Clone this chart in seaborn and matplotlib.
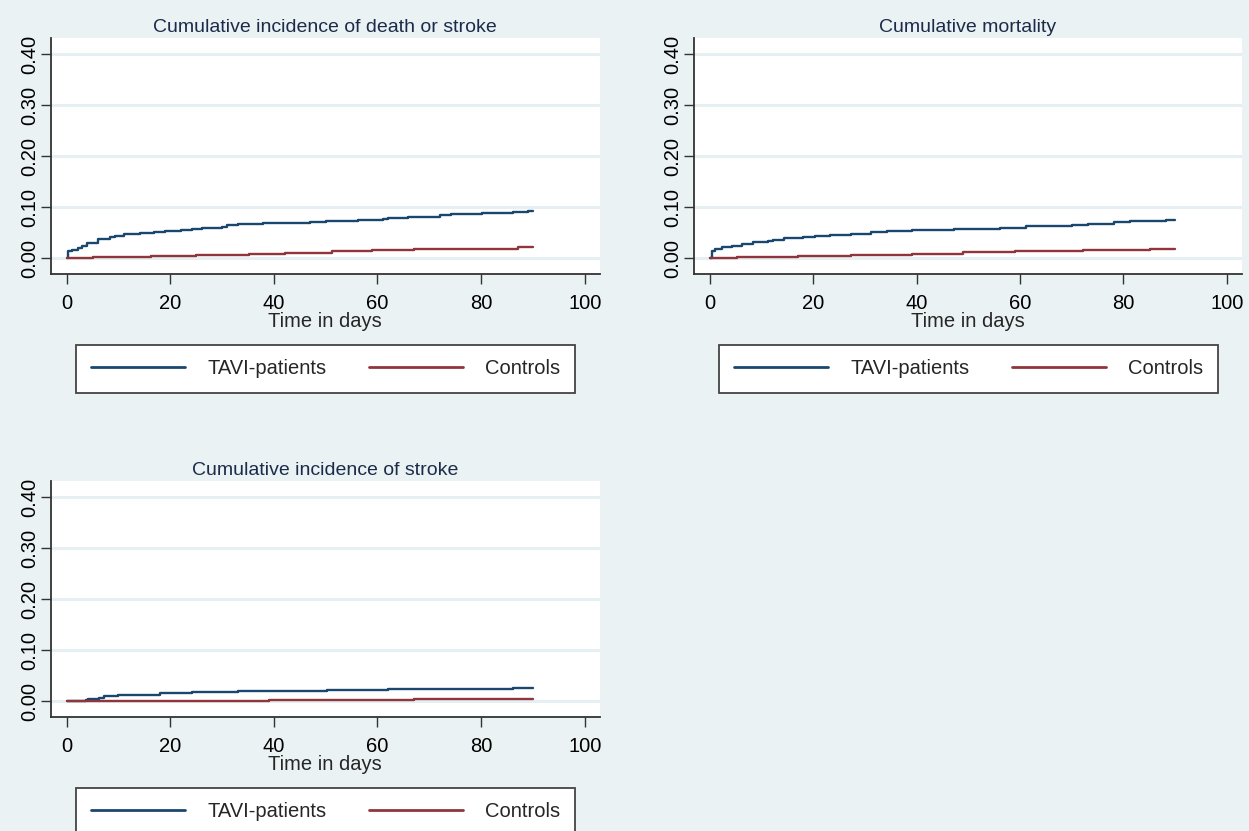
import numpy as np
import pandas as pd
import seaborn as sns
import matplotlib.pyplot as plt

# panel titles and groups
titles = ["Cumulative incidence of death or stroke",
          "Cumulative mortality",
          "Cumulative incidence of stroke"]
groups = ["TAVI-patients", "Controls"]
x_ticks = [0, 20, 40, 60, 80, 100]
y_ticks = [0.0, 0.1, 0.2, 0.3, 0.4]

# death or stroke
ds_tavi_days = [0, 0.2, 1.0, 2.1, 3.0, 4.0, 6.0, 8.3, 9.3, 11.0, 13.1, 14.1, 16.9, 19.0, 22.1,
                24.1, 26.2, 30.0, 31.0, 33.1, 37.9, 47.0, 50.0, 56.2, 61.0, 62.1, 65.9, 72.1,
                74.1, 80.1, 86.2, 89.0, 90.0]
ds_tavi_risk = [0, 0.014, 0.017, 0.020, 0.023, 0.030, 0.037, 0.041, 0.043, 0.047, 0.048, 0.050,
                0.052, 0.054, 0.056, 0.058, 0.060, 0.062, 0.065, 0.067, 0.069, 0.071, 0.073,
                0.075, 0.077, 0.079, 0.081, 0.084, 0.086, 0.088, 0.090, 0.092, 0.092]
ds_ctrl_days = [0, 5.0, 16.2, 25.0, 35.2, 42.2, 51.2, 59.0, 67.0, 76.2, 87.2, 90.0]
ds_ctrl_risk = [0, 0.002, 0.0045, 0.0065, 0.009, 0.011, 0.0135, 0.0155, 0.0175, 0.019, 0.022, 0.022]

# mortality
mo_tavi_days = [0, 0.5, 1.0, 2.3, 4.3, 6.3, 8.3, 11.2, 12.2, 14.3, 18.1, 20.3, 23.2, 27.4, 31.2,
                34.3, 39.1, 47.2, 56.1, 61.2, 70.1, 73.2, 78.1, 81.3, 88.2, 90.0]
mo_tavi_risk = [0, 0.014, 0.018, 0.0216, 0.0235, 0.0275, 0.031, 0.034, 0.0366, 0.039, 0.041,
                0.0438, 0.0458, 0.048, 0.051, 0.0536, 0.0556, 0.058, 0.060, 0.0627, 0.065,
                0.068, 0.0706, 0.0725, 0.0745, 0.0745]
mo_ctrl_days = [0, 5.3, 17.0, 27.4, 39.1, 49.0, 59.1, 72.1, 85.2, 90.0]
mo_ctrl_risk = [0, 0.002, 0.0046, 0.0065, 0.009, 0.0118, 0.0137, 0.0157, 0.0176, 0.0176]

# stroke
st_tavi_days = [0, 3.7, 4.2, 6.2, 7.2, 10.0, 18.1, 24.1, 33.1, 50.2, 62.1, 86.2, 90.0]
st_tavi_risk = [0, 0.002, 0.004, 0.0072, 0.0098, 0.013, 0.0157, 0.0176, 0.0196, 0.0216,
                0.0235, 0.0255, 0.0255]
st_ctrl_days = [0, 39.0, 67.0, 90.0]
st_ctrl_risk = [0, 0.002, 0.0046, 0.0046]

panels = [
    (ds_tavi_days, ds_tavi_risk, ds_ctrl_days, ds_ctrl_risk),
    (mo_tavi_days, mo_tavi_risk, mo_ctrl_days, mo_ctrl_risk),
    (st_tavi_days, st_tavi_risk, st_ctrl_days, st_ctrl_risk),
]

BG = '#EAF2F3'
GRID = '#E6EFF1'
NAVY = '#1A476F'
MAROON = '#90353B'
AXC = '#333333'
palette = {"TAVI-patients": NAVY, "Controls": MAROON}

sns.set_style("white")
plt.rcParams['font.family'] = ['Liberation Sans', 'DejaVu Sans']

W, H = 1249, 831
fig = plt.figure(figsize=(W / 100, H / 100), dpi=100, facecolor=BG)

# axes boxes in pixels: left, top, right, bottom
boxes = [(50.6, 38, 600, 274), (693.8, 38, 1242, 274), (50.6, 481, 600, 717)]
legend_boxes = [(76, 346, 575, 392), (719, 346, 1218, 392), (76, 789, 575, 835)]

for i, (td, tr, cd, cr) in enumerate(panels):
    l, t, r, b = boxes[i]
    ax = fig.add_axes([l / W, 1 - b / H, (r - l) / W, (b - t) / H])
    ax.set_facecolor('white')

    df = pd.DataFrame({
        'day': list(td) + list(cd),
        'risk': list(tr) + list(cr),
        'group': [groups[0]] * len(td) + [groups[1]] * len(cd),
    })
    sns.lineplot(data=df, x='day', y='risk', hue='group', palette=palette,
                 estimator=None, drawstyle='steps-post', linewidth=1.7,
                 legend=False, ax=ax)

    ax.set_xlim(-3.1, 102.95)
    ax.set_ylim(-0.031, 0.432)
    ax.set_xticks(x_ticks)
    ax.set_yticks(y_ticks)
    ax.set_yticklabels([f"{v:.2f}" for v in y_ticks])
    ax.yaxis.grid(True, color=GRID, linewidth=2.2)
    ax.set_axisbelow(True)

    for s in ['top', 'right']:
        ax.spines[s].set_visible(False)
    for s in ['left', 'bottom']:
        ax.spines[s].set_color(AXC)
        ax.spines[s].set_linewidth(1.3)

    ax.tick_params(axis='both', which='major', direction='out', length=7, width=1,
                   color=AXC, labelsize=14.5, labelcolor='black', bottom=True, left=True)
    ax.tick_params(axis='x', pad=7.5)
    ax.tick_params(axis='y', pad=1)
    plt.setp(ax.get_yticklabels(), rotation=90, va='center')

    ax.set_xlabel("Time in days", fontsize=14.5, labelpad=-0.5)
    ax.set_ylabel("")
    ax.set_title(titles[i], fontsize=14, color='#1C2B4A', pad=4)

    # legend box under each panel
    ll, lt, lr, lb = legend_boxes[i]
    handles = [plt.Line2D([], [], color=NAVY, linewidth=2),
               plt.Line2D([], [], color=MAROON, linewidth=2)]
    leg = fig.legend(handles, groups, ncol=2, mode='expand', loc='center',
                     bbox_to_anchor=(ll / W, 1 - lb / H, (lr - ll) / W, (lb - lt) / H),
                     borderaxespad=0, fontsize=14.5, handlelength=4.7, handletextpad=1.1,
                     borderpad=0.72, frameon=True, fancybox=False, framealpha=1,
                     edgecolor='#444444')
    leg.get_frame().set_linewidth(1.3)
    leg.get_frame().set_facecolor('white')

fig.savefig('out.png', dpi=100, facecolor=BG)
